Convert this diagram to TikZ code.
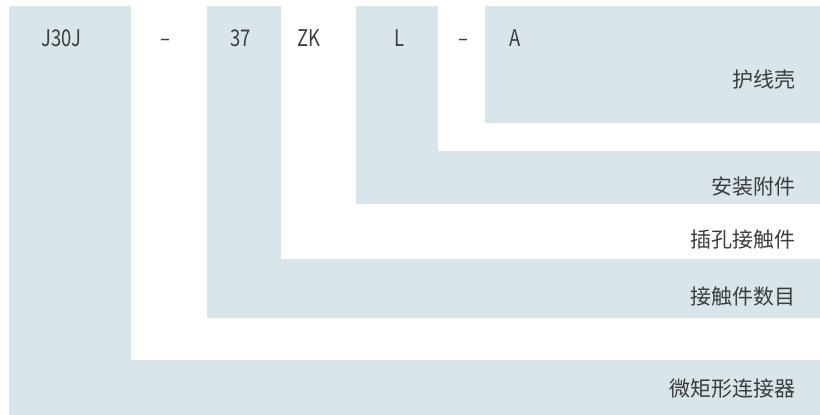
\documentclass[tikz,border=0pt]{standalone}
\usepackage{fontspec}
\setmainfont{Noto Sans CJK SC}
\newfontfamily\codefont[FakeStretch=0.8]{Noto Sans CJK SC}
\definecolor{band}{HTML}{D8E5EB}
\definecolor{ink}{HTML}{3C3C3C}
\begin{document}
\begin{tikzpicture}[x=1pt,y=-1pt,
  code/.style={anchor=base,inner sep=0pt,text=ink,font=\codefont\fontsize{23}{23}\selectfont},
  desc/.style={anchor=east,inner sep=0pt,text=ink,font=\fontsize{21}{21}\selectfont}]
\useasboundingbox (0,0) rectangle (820,415);
% shaded L-shaped regions
\fill[band] (9,6) -- (131,6) -- (131,360) -- (820,360) -- (820,415) -- (9,415) -- cycle;
\fill[band] (207,6) -- (281,6) -- (281,259) -- (820,259) -- (820,318) -- (207,318) -- cycle;
\fill[band] (356,6) -- (438,6) -- (438,151) -- (820,151) -- (820,204) -- (356,204) -- cycle;
\fill[band] (485,6) -- (820,6) -- (820,123) -- (485,123) -- cycle;
% code row
\node[code] (j30j) at (61.5,46) {J30J};
\node[code] (d1) at (165,46) {–};
\node[code] (n37) at (240.5,46) {37};
\node[code] (zk) at (309,46) {ZK};
\node[code] (l) at (399.5,46) {L};
\node[code] (d2) at (463,46) {–};
\node[code] (a) at (515,46) {A};
% descriptions
\node[desc] (t1) at (796,80) {护线壳};
\node[desc] (t2) at (796,187) {安装附件};
\node[desc] (t3) at (796,240) {插孔接触件};
\node[desc] (t4) at (796,297) {接触件数目};
\node[desc] (t5) at (796,389) {微矩形连接器};
\end{tikzpicture}
\end{document}
